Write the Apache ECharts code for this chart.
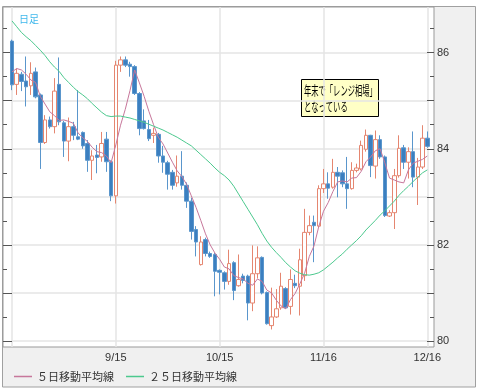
<!DOCTYPE html>
<html><head><meta charset="utf-8">
<script src="https://cdn.jsdelivr.net/npm/echarts@6/dist/echarts.min.js"></script>
<style>html,body{margin:0;padding:0;background:#fff}#c{width:478px;height:391px}</style>
</head><body><div id="c"></div>
<script>
const dates = ['8/16','8/17','8/18','8/19','8/20','8/23','8/24','8/25','8/26','8/27','8/30','8/31',
'9/1','9/2','9/3','9/6','9/7','9/8','9/9','9/10','9/13','9/14','9/15','9/16','9/17','9/20','9/21','9/22','9/23','9/24','9/27','9/28','9/29','9/30',
'10/1','10/4','10/5','10/6','10/7','10/8','10/11','10/12','10/13','10/14','10/15','10/18','10/19','10/20','10/21','10/22','10/25','10/26','10/27','10/28','10/29',
'11/1','11/2','11/3','11/4','11/5','11/8','11/9','11/10','11/11','11/12','11/15','11/16','11/17','11/18','11/19','11/22','11/23','11/24','11/25','11/26','11/29','11/30',
'12/1','12/2','12/3','12/6','12/7','12/8','12/9','12/10','12/13','12/14','12/15','12/16'];
const openVals = [86.24,85.34,85.55,85.41,85.31,85.60,85.12,84.13,84.60,84.46,
85.34,84.54,84.16,84.46,84.25,84.34,84.11,83.76,83.87,83.83,
84.20,83.73,83.02,85.74,85.85,85.76,85.71,85.15,84.58,84.40,
84.28,84.30,83.85,83.71,83.51,83.29,83.43,83.24,82.91,82.32,
81.59,82.11,81.82,81.80,81.47,81.42,81.24,81.63,81.15,81.35,
81.35,80.79,81.40,81.74,81.01,80.32,80.50,80.69,81.09,80.72,
81.20,81.14,81.36,82.26,82.47,82.39,83.17,83.27,83.20,83.51,
83.50,83.27,83.17,83.55,83.58,83.99,84.28,83.64,84.19,83.83,
82.60,82.67,83.44,84.02,83.72,83.94,83.41,83.62,84.22];
const closeVals = [85.33,85.57,85.40,85.29,85.57,85.08,84.13,84.60,84.46,85.20,
84.56,84.16,84.46,84.28,84.20,84.06,83.76,83.85,83.82,84.11,
83.73,83.02,85.74,85.85,85.74,85.71,85.15,84.42,84.42,84.21,
84.32,83.85,83.72,83.47,83.24,83.43,83.24,82.91,82.28,82.06,
82.06,81.82,81.76,81.45,81.43,81.24,81.61,81.05,81.28,81.26,
80.79,81.40,81.73,81.00,80.36,80.50,80.67,81.14,80.69,81.28,
81.15,81.69,82.26,82.40,82.40,83.17,83.27,83.18,83.51,83.43,
83.27,83.17,83.55,83.60,84.07,84.28,83.65,84.19,83.83,82.61,
82.67,83.44,84.01,83.72,83.94,83.41,83.62,84.22,84.05];
const lowVals = [85.22,85.12,85.20,84.88,85.12,85.05,83.58,84.10,84.42,84.32,
84.49,83.83,83.74,84.18,84.18,84.00,83.52,83.35,83.49,83.73,
83.52,82.91,82.86,85.60,85.70,85.50,85.12,84.28,84.40,84.16,
84.12,83.71,83.50,83.15,83.15,83.21,83.15,82.77,82.11,81.76,
81.57,81.76,81.73,80.93,80.97,81.07,81.17,80.85,81.13,81.20,
80.43,80.62,81.30,80.97,80.34,80.24,80.48,80.65,80.67,80.55,
81.10,80.53,81.25,82.20,81.64,82.37,83.08,82.96,83.17,82.99,
83.20,82.75,83.15,83.51,83.55,83.94,83.41,83.38,83.79,82.58,
82.58,82.33,83.40,83.58,83.38,83.20,82.83,83.58,84.02];
const highVals = [86.27,85.67,85.60,85.92,85.80,85.69,85.15,84.70,84.67,85.47,
85.90,84.58,84.65,84.56,85.22,84.36,84.18,83.97,84.08,84.35,
84.35,83.76,85.83,85.92,85.92,85.81,85.74,85.18,84.82,84.60,
84.44,84.33,84.06,83.75,83.56,83.86,83.95,83.30,82.98,82.39,
82.18,82.15,81.86,81.83,81.49,81.45,81.90,81.66,81.80,81.40,
81.38,81.99,81.97,81.76,81.03,81.11,81.08,81.42,81.12,81.49,
81.38,81.92,82.75,82.61,82.61,83.24,83.58,83.51,83.79,83.62,
83.55,83.83,83.72,83.69,84.17,84.40,84.29,84.38,84.28,83.86,
82.72,83.58,84.28,84.08,84.03,84.36,83.81,84.49,84.36];
const ma5 = [85.60,85.67,85.64,85.55,85.43,85.38,85.09,84.93,84.77,84.69,
84.59,84.60,84.57,84.53,84.33,84.23,84.15,84.03,83.94,83.92,
83.85,83.71,84.08,84.49,84.82,85.21,85.64,85.37,85.09,84.78,
84.50,84.24,84.10,83.91,83.72,83.54,83.42,83.26,83.02,82.78,
82.51,82.23,82.00,81.83,81.70,81.54,81.50,81.36,81.32,81.29,
81.20,81.16,81.29,81.24,81.06,81.00,80.85,80.73,80.67,80.86,
80.99,81.19,81.41,81.76,81.98,82.38,82.70,82.88,83.11,83.31,
83.33,83.31,83.39,83.40,83.53,83.73,83.83,83.96,84.00,83.71,
83.39,83.35,83.31,83.29,83.56,83.70,83.74,83.78,83.85];
const ma25 = [86.66,86.54,86.42,86.33,86.25,86.15,86.05,85.94,85.81,85.70,
85.61,85.48,85.38,85.28,85.19,85.12,85.04,84.94,84.85,84.76,
84.69,84.67,84.68,84.68,84.66,84.64,84.61,84.58,84.55,84.51,
84.47,84.43,84.39,84.34,84.29,84.24,84.18,84.12,84.06,83.97,
83.88,83.79,83.70,83.60,83.51,83.44,83.35,83.22,83.06,82.90,
82.74,82.58,82.42,82.24,82.08,81.95,81.84,81.74,81.63,81.54,
81.46,81.41,81.38,81.37,81.39,81.42,81.48,81.56,81.64,81.73,
81.81,81.91,82.00,82.09,82.19,82.31,82.41,82.51,82.62,82.71,
82.81,82.91,83.03,83.13,83.22,83.32,83.41,83.50,83.56];
const xTickLabels = ['9/15','10/15','11/16','12/16'];
const xGridDates = ['8/16','9/15','10/15','11/16','12/16'];
const yLabelVals = [80,82,84,86];
const yMajorVals = [80,81,82,83,84,85,86];
const yMinorVals = [80.5,81.5,82.5,83.5,84.5,85.5,86.5];
const legendNames = ['５日移動平均線','２５日移動平均線'];

const Y_MIN = 79.875, Y_MAX = 86.95;
const candleData = dates.map((d,i)=>[openVals[i],closeVals[i],lowVals[i],highVals[i]]);

function yAx(pos, offset, ticks, len, extra){
  return Object.assign({
    type:'value', position:pos, offset:offset, min:Y_MIN, max:Y_MAX, scale:true,
    axisLine:{show:false},
    axisTick:{show:true, inside:true, length:len, customValues:ticks, lineStyle:{color:'#555', width:1}},
    axisLabel:{show:false},
    splitLine:{show:false}
  }, extra||{});
}

const chart = echarts.init(document.getElementById('c'), null, {renderer:'canvas'});
chart.setOption({
  animation:false,
  backgroundColor:'transparent',
  title:{text:'日足', left:14, top:9, textStyle:{fontSize:10, color:'#3fb8ec', fontWeight:'normal', fontFamily:'Noto Sans CJK JP'}},
  graphic:[
    {type:'rect', z:-20, shape:{x:2.5, y:6.5, width:473, height:380.5}, style:{fill:'#f0f0f0', stroke:'#a0a0a0', lineWidth:1}},
    {type:'rect', z:-19, shape:{x:3, y:7, width:431, height:340}, style:{fill:'#ffffff', stroke:'#999999', lineWidth:1}},
    {type:'group', left:301, top:79, z:50, children:[
      {type:'rect', shape:{x:0.5, y:0.5, width:77, height:37}, style:{fill:'#ffffc6', stroke:'#000', lineWidth:1}},
      {type:'text', x:3, y:3, scaleX:0.56, style:{text:'年末で「レンジ相場」\nとなっている', fill:'#000', font:'13px "Noto Sans CJK JP"', lineHeight:16}}
    ]}
  ],
  legend:{data:legendNames, left:14, top:371, icon:'rect', itemWidth:18, itemHeight:1.5, itemGap:12,
    textStyle:{fontSize:11, color:'#333', fontFamily:'Noto Sans CJK JP'}, padding:0},
  grid:{left:12, right:50.7, top:7, bottom:44, containLabel:false},
  xAxis:{type:'category', data:dates, boundaryGap:false,
    axisLine:{show:false}, axisTick:{show:false},
    axisLabel:{interval:(i,v)=>xTickLabels.indexOf(v)>=0, color:'#333', fontSize:11, fontFamily:'Liberation Sans', margin:5},
    splitLine:{show:true, interval:(i,v)=>xGridDates.indexOf(v)>=0, lineStyle:{color:'#e4e4e4', width:1.5}}
  },
  yAxis:[
    yAx('right', 6.7, yMajorVals, 7, {
      axisLabel:{show:true, customValues:yLabelVals, color:'#333', fontSize:11, fontFamily:'Liberation Sans', margin:3},
      splitLine:{show:true, lineStyle:{color:'#e4e4e4', width:1.5}}
    }),
    yAx('right', 6.7, yMinorVals, 4),
    yAx('left', 9, yMajorVals, 9),
    yAx('left', 9, yMinorVals, 4)
  ],
  series:[
    {type:'candlestick', name:'日足', data:candleData, yAxisIndex:0, barWidth:4, clip:false,
     itemStyle:{color:'#ffffff', color0:'#3b7fc0', borderColor:'#e58670', borderColor0:'#5a96cc', borderWidth:1}},
    {type:'line', name:legendNames[0], data:ma5, yAxisIndex:0, showSymbol:false, symbol:'none',
     lineStyle:{color:'#c7779b', width:1}, itemStyle:{color:'#c7779b'}, z:3},
    {type:'line', name:legendNames[1], data:ma25, yAxisIndex:0, showSymbol:false, symbol:'none',
     lineStyle:{color:'#4cc98e', width:1}, itemStyle:{color:'#4cc98e'}, z:3}
  ]
});
</script></body></html>
